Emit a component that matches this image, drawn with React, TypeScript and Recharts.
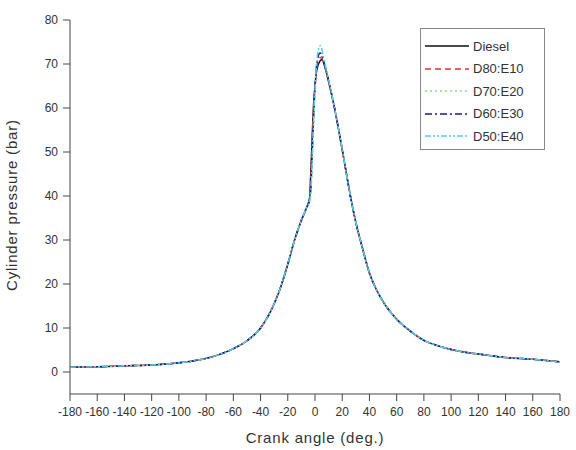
import React from 'react';
import {
  LineChart,
  Line,
  XAxis,
  YAxis,
} from 'recharts';

// crank angle (deg.)
const angles = [
  -180, -160, -140, -120, -100, -90, -80, -70, -60, -50, -40, -30, -25, -20, -15, -10, -6, -4, -3, -2, -1,
  0, 1, 2, 3, 4, 5, 6, 8, 10, 14, 18, 22, 26, 30, 35, 40, 45, 50, 55, 60, 70, 80, 90, 100, 110, 120, 140, 160, 180,
];

// cylinder pressure (bar) per fuel blend
const diesel = [
  1.1, 1.2, 1.4, 1.6, 2.1, 2.5, 3.1, 4.0, 5.3, 7.1, 10, 15.5, 19.5, 24.5, 30, 34.5, 37.5, 39.5, 46, 54, 61,
  65, 68, 69.5, 70.3, 70.8, 71, 70.5, 68.5, 66, 60.5, 54, 47, 40, 34, 28, 22.5, 18.8, 16, 13.8, 12, 9.3, 7.2, 6, 5.1, 4.5, 4.1, 3.3, 2.9, 2.3,
];
const d80e10 = [
  1.1, 1.2, 1.4, 1.6, 2.1, 2.5, 3.1, 4.0, 5.3, 7.1, 10, 15.5, 19.5, 24.5, 30, 34.5, 37.5, 39.3, 44, 52, 60,
  65, 68.5, 70.3, 71.2, 71.5, 71.3, 70.6, 68.6, 66, 60.5, 54, 47, 40, 34, 28, 22.5, 18.8, 16, 13.8, 12, 9.3, 7.2, 6, 5.1, 4.5, 4.1, 3.3, 2.9, 2.3,
];
const d70e20 = [
  1.1, 1.2, 1.4, 1.6, 2.1, 2.5, 3.1, 4.0, 5.3, 7.1, 10, 15.5, 19.5, 24.5, 30, 34.5, 37.5, 39.2, 43, 51, 59,
  65, 69, 71, 71.8, 72, 71.6, 70.8, 68.7, 66.1, 60.5, 54, 47, 40, 34, 28, 22.5, 18.8, 16, 13.8, 12, 9.3, 7.2, 6, 5.1, 4.5, 4.1, 3.3, 2.9, 2.3,
];
const d60e30 = [
  1.1, 1.2, 1.4, 1.6, 2.1, 2.5, 3.1, 4.0, 5.3, 7.1, 10, 15.5, 19.5, 24.5, 30, 34.5, 37.5, 39, 42, 50, 58,
  64.5, 69, 71.3, 72.3, 72.5, 72, 71, 68.8, 66.2, 60.6, 54, 47, 40, 34, 28, 22.5, 18.8, 16, 13.8, 12, 9.3, 7.2, 6, 5.1, 4.5, 4.1, 3.3, 2.9, 2.3,
];
const d50e40 = [
  1.1, 1.2, 1.4, 1.6, 2.1, 2.5, 3.1, 4.0, 5.3, 7.1, 10, 15.5, 19.5, 24.5, 30, 34.5, 37.5, 38.8, 41, 48, 57,
  64, 69.5, 72.5, 73.8, 74.2, 73.4, 71.8, 69.2, 66.4, 60.7, 54.1, 47, 40, 34, 28, 22.5, 18.8, 16, 13.8, 12, 9.3, 7.2, 6, 5.1, 4.5, 4.1, 3.3, 2.9, 2.3,
];

const xTicks = [-180, -160, -140, -120, -100, -80, -60, -40, -20, 0, 20, 40, 60, 80, 100, 120, 140, 160, 180];
const xMinorTicks = [-170, -150, -130, -110, -90, -70, -50, -30, -10, 10, 30, 50, 70, 90, 110, 130, 150, 170];
const yTicks = [0, 10, 20, 30, 40, 50, 60, 70, 80];

const series = [
  { key: 'Diesel', values: diesel, color: '#111111', dash: undefined },
  { key: 'D80:E10', values: d80e10, color: '#e0303a', dash: '6 4' },
  { key: 'D70:E20', values: d70e20, color: '#7fe07f', dash: '2 3' },
  { key: 'D60:E30', values: d60e30, color: '#1a1a8c', dash: '7 3 2 3' },
  { key: 'D50:E40', values: d50e40, color: '#5ad0e0', dash: '6 2 2 2 2 2' },
];

const data = angles.map((a, i) => {
  const row: Record<string, number> = { angle: a };
  series.forEach((s) => {
    row[s.key] = s.values[i];
  });
  return row;
});

const font = '"Liberation Sans", Arial, sans-serif';
const titleStyle = { fontSize: 15, fill: '#333', fontFamily: font, letterSpacing: 0.8 };

// boxed legend in the upper right of the plot
const LegendBox: React.FC = () => (
  <div
    style={{
      position: 'absolute',
      left: 420,
      top: 28,
      width: 125,
      height: 122,
      border: '1px solid #888',
      background: '#fff',
      fontFamily: font,
      fontSize: 13,
      color: '#333',
      paddingTop: 6,
      boxSizing: 'border-box',
    }}
  >
    {series.map((s) => (
      <div key={s.key} style={{ display: 'flex', alignItems: 'center', height: 22.5 }}>
        <svg width={48} height={10} style={{ marginLeft: 4 }}>
          <line x1={0} y1={5} x2={44} y2={5} stroke={s.color} strokeWidth={1.5} strokeDasharray={s.dash} />
        </svg>
        <span>{s.key}</span>
      </div>
    ))}
  </div>
);

const App: React.FC = () => {
  return (
    <div style={{ position: 'absolute', left: 0, top: 0, width: 576, height: 450, background: '#fff' }}>
      <LineChart
        width={576}
        height={450}
        data={data}
        margin={{ top: 20, right: 16, bottom: 26, left: 0 }}
        style={{ fontFamily: font }}
      >
        {/* minor ticks between the labelled ones */}
        <XAxis
          xAxisId="minor"
          dataKey="angle"
          type="number"
          domain={[-180, 180]}
          ticks={xMinorTicks}
          interval={0}
          height={0}
          tick={false}
          tickSize={4}
          stroke="#444"
        />
        <XAxis
          dataKey="angle"
          type="number"
          domain={[-180, 180]}
          ticks={xTicks}
          interval={0}
          height={30}
          stroke="#444"
          tickSize={7}
          tickMargin={6}
          tick={{ fontSize: 12, fill: '#333', fontFamily: font }}
          label={{ value: 'Crank angle (deg.)', position: 'insideBottom', offset: -19, ...titleStyle }}
        />
        <XAxis xAxisId="top" orientation="top" dataKey="angle" type="number" domain={[-180, 180]} height={0} tick={false} tickLine={false} stroke="#444" />
        <YAxis
          type="number"
          domain={[-5, 80]}
          ticks={yTicks}
          interval={0}
          width={70}
          stroke="#444"
          tickSize={7}
          tickMargin={5}
          tick={{ fontSize: 12, fill: '#333', fontFamily: font }}
          label={{ value: 'Cylinder pressure (bar)', angle: -90, position: 'insideLeft', offset: 12, dy: 84, ...titleStyle }}
        />
        <YAxis yAxisId="right" orientation="right" domain={[-5, 80]} tick={false} tickLine={false} width={0} stroke="#444" />
        {series.map((s) => (
          <Line
            key={s.key}
            xAxisId={0}
            dataKey={s.key}
            type="monotone"
            stroke={s.color}
            strokeWidth={1.5}
            strokeDasharray={s.dash}
            dot={false}
            isAnimationActive={false}
          />
        ))}
      </LineChart>
      <LegendBox />
    </div>
  );
};

export default App;
